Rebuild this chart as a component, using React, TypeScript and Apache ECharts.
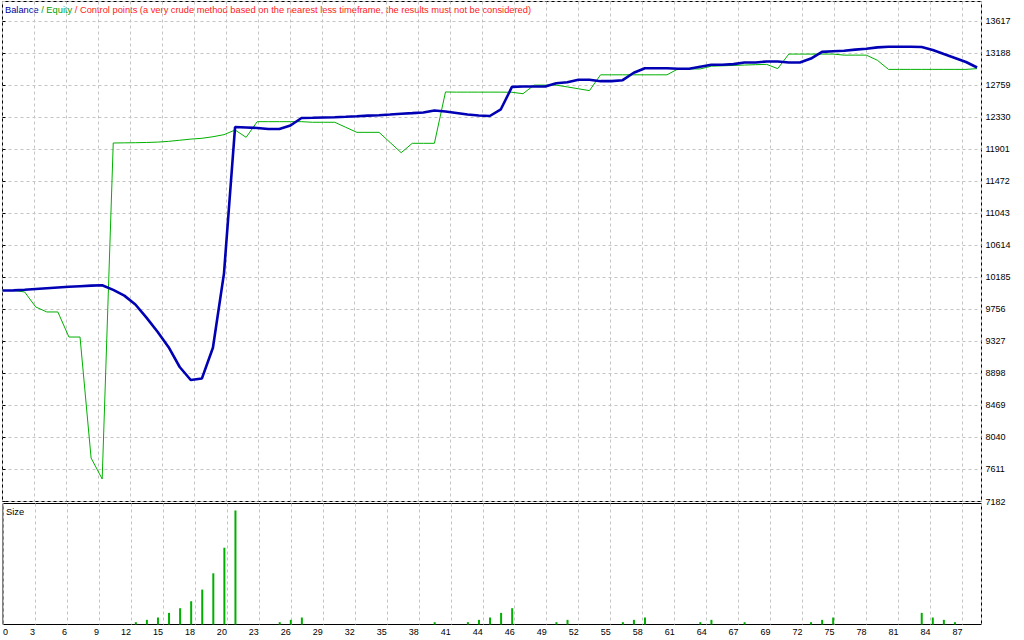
import React, { useEffect, useRef } from 'react';
import * as echarts from 'echarts';

// x tick labels (trade numbers shown under the vertical grid lines)
const xTickLabels = ['0', '3', '6', '9', '12', '15', '18', '20', '23', '26', '29', '32', '35', '38', '41', '44', '46', '49', '52', '55', '58', '61', '64', '67', '69', '72', '75', '78', '81', '84', '87'];

// axis ranges
const X_MAX = 88.4;
const X_STEP = 2.8895;
const Y_MIN = 7182;
const Y_STEP = 429;
const Y_MAX = 13885;
const SIZE_MAX = 0.52;

// balance after each trade (0..88)
const balance = [
  10010, 10012, 10020, 10030, 10040, 10050, 10060, 10068, 10076, 10082,
  10019, 9942, 9823, 9647, 9458, 9251, 8985, 8811, 8830, 9244,
  10241, 12202, 12196, 12190, 12175, 12175, 12222, 12323, 12326, 12330,
  12334, 12340, 12347, 12355, 12361, 12370, 12380, 12388, 12397, 12424,
  12410, 12390, 12370, 12357, 12350, 12440, 12740, 12746, 12746, 12746,
  12790, 12803, 12835, 12835, 12817, 12817, 12830, 12930, 12991, 12991,
  12991, 12983, 12983, 13010, 13037, 13037, 13045, 13067, 13067, 13081,
  13081, 13067, 13067, 13120, 13210, 13219, 13225, 13240, 13251, 13270,
  13278, 13278, 13278, 13275, 13235, 13181, 13128, 13074, 13000,
];

// equity at each trade (0..88)
const equity = [
  10010, 10012, 9991, 9790, 9723, 9723, 9387, 9387, 7765, 7484,
  11988, 11990, 11992, 11995, 12000, 12010, 12025, 12040, 12051, 12072,
  12100, 12162, 12064, 12274, 12274, 12274, 12274, 12274, 12266, 12266,
  12266, 12198, 12131, 12131, 12131, 11995, 11858, 11984, 11984, 11984,
  12672, 12670, 12670, 12670, 12670, 12670, 12668, 12649, 12764, 12764,
  12764, 12740, 12715, 12690, 12902, 12902, 12902, 12902, 12902, 12902,
  12902, 12981, 12981, 12981, 13018, 13023, 13028, 13033, 13038, 13042,
  12985, 13180, 13180, 13180, 13180, 13180, 13166, 13166, 13166, 13097,
  12975, 12975, 12975, 12975, 12975, 12975, 12975, 12975, 12985,
];

// position sizes (lots) per trade
const sizeTrades = [12, 13, 14, 15, 16, 17, 18, 19, 20, 21, 25, 26, 27, 39, 42, 43, 44, 45, 46, 50, 51, 56, 57, 58, 63, 64, 67, 73, 74, 75, 83, 84, 85, 86];
const sizeLots = [0.01, 0.02, 0.03, 0.05, 0.07, 0.10, 0.15, 0.22, 0.33, 0.49, 0.01, 0.02, 0.03, 0.01, 0.01, 0.02, 0.03, 0.05, 0.07, 0.01, 0.02, 0.01, 0.02, 0.03, 0.01, 0.02, 0.01, 0.01, 0.02, 0.03, 0.05, 0.03, 0.02, 0.01];

const FONT = "'Liberation Sans', Arial, sans-serif";
const GRID_LINE = { show: true, lineStyle: { color: '#c4c4c4', type: [3, 3] as any, width: 1 } };

export default function App() {
  const ref = useRef<HTMLDivElement>(null);

  useEffect(() => {
    if (!ref.current) return;
    const chart = echarts.init(ref.current, undefined, { renderer: 'svg' });
    const xFormatter = (v: number) => {
      const k = Math.round(v / X_STEP);
      const lab = xTickLabels[k];
      return lab === undefined || Math.abs(k * X_STEP - v) > 0.01 ? '' : lab;
    };
    const option: any = {
      animation: false,
      backgroundColor: '#ffffff',
      grid: [
        { left: 2.5, right: 42.5, top: 1.5, bottom: 138.5, show: true, borderColor: '#000', borderWidth: 1, backgroundColor: 'transparent' },
        { left: 2.5, right: 42.5, top: 503.5, bottom: 15.5, show: true, borderColor: '#000', borderWidth: 1, backgroundColor: 'transparent' },
      ],
      xAxis: [
        {
          type: 'value', gridIndex: 0, min: 0, max: X_MAX, interval: X_STEP,
          axisLine: { show: false }, axisTick: { show: false }, axisLabel: { show: false },
          splitLine: GRID_LINE,
        },
        {
          type: 'value', gridIndex: 1, min: 0, max: X_MAX, interval: X_STEP,
          axisLine: { show: false }, axisTick: { show: false },
          axisLabel: {
            show: true, formatter: xFormatter, fontSize: 9, fontFamily: FONT, color: '#000',
            margin: 3, align: 'right', alignMinLabel: 'left', showMaxLabel: false,
          },
          splitLine: GRID_LINE,
        },
      ],
      yAxis: [
        {
          type: 'value', gridIndex: 0, position: 'right', min: Y_MIN, max: Y_MAX, interval: Y_STEP,
          axisLine: { show: false },
          axisTick: { show: true, length: 3, lineStyle: { color: '#000', width: 1 } },
          axisLabel: {
            show: true, margin: 4, fontSize: 9, fontFamily: FONT, color: '#000', showMaxLabel: false,
            formatter: (v: number) => String(Math.round(v)),
          },
          splitLine: GRID_LINE,
        },
        { type: 'value', gridIndex: 1, min: 0, max: SIZE_MAX, show: false, splitLine: { show: false } },
      ],
      series: [
        {
          name: 'Equity', type: 'line', xAxisIndex: 0, yAxisIndex: 0,
          data: equity.map((v, i) => [i, v]), symbol: 'none', showSymbol: false,
          lineStyle: { color: '#00b000', width: 1 }, z: 2,
        },
        {
          name: 'Balance', type: 'line', xAxisIndex: 0, yAxisIndex: 0,
          data: balance.map((v, i) => [i, v]), symbol: 'none', showSymbol: false,
          lineStyle: { color: '#0000b4', width: 2.6 }, z: 3,
        },
        {
          name: 'Size', type: 'bar', xAxisIndex: 1, yAxisIndex: 1,
          data: sizeTrades.map((t, i) => [t, sizeLots[i]]), barWidth: 2,
          itemStyle: { color: '#00b000' },
        },
      ],
      graphic: [
        {
          type: 'text', left: 5, top: 5,
          style: {
            text: '{b|Balance}{g| / Equity}{r| / Control points (a very crude method based on the nearest less timeframe, the results must not be considered)}',
            fontSize: 9.3, fontFamily: FONT,
            rich: {
              b: { fill: '#0000a0', fontSize: 9.3, fontFamily: FONT },
              g: { fill: '#00a000', fontSize: 9.3, fontFamily: FONT },
              r: { fill: '#ff2020', fontSize: 9.3, fontFamily: FONT },
            },
          },
        },
        {
          type: 'text', left: 6, top: 507,
          style: { text: 'Size', fill: '#000', fontSize: 9.3, fontFamily: FONT },
        },
      ],
    };
    chart.setOption(option);
    return () => chart.dispose();
  }, []);

  return (
    <div
      ref={ref}
      style={{ position: 'fixed', left: 0, top: 0, width: 1024, height: 640, background: '#fff' }}
    />
  );
}
